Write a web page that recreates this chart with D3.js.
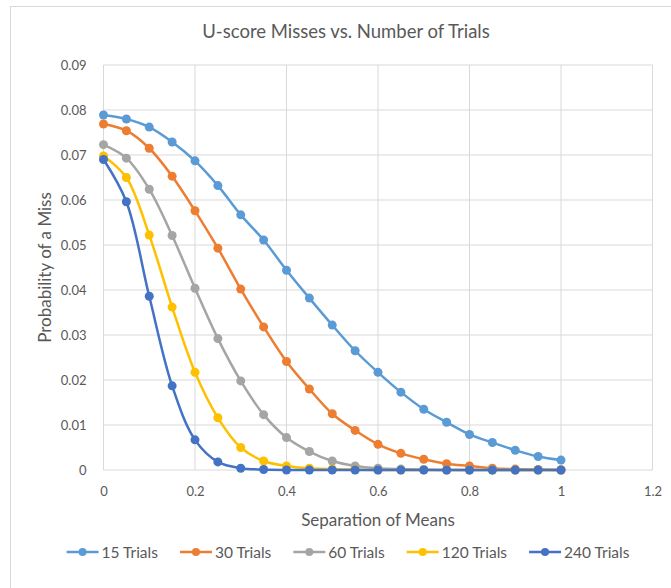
<!DOCTYPE html>
<html>
<head>
<meta charset="utf-8">
<script src="https://cdn.jsdelivr.net/npm/d3@7"></script>
<style>
  body { margin: 0; background: #fff; }
  text { font-family: Lato, "Open Sans", sans-serif; fill: #595959; }
</style>
</head>
<body>
<div id="chart"></div>
<script>
// ---- data ----
var separation = [0, 0.05, 0.1, 0.15, 0.2, 0.25, 0.3, 0.35, 0.4, 0.45, 0.5,
                  0.55, 0.6, 0.65, 0.7, 0.75, 0.8, 0.85, 0.9, 0.95, 1.0];
var series_names = ['15 Trials', '30 Trials', '60 Trials', '120 Trials', '240 Trials'];
var trials15 = [0.0789, 0.0780, 0.0762, 0.0729, 0.0687, 0.0632, 0.0567, 0.0511, 0.0444, 0.0382, 0.0322,
                0.0265, 0.0217, 0.0173, 0.0135, 0.0106, 0.0079, 0.0061, 0.0044, 0.0030, 0.0022];
var trials30 = [0.0769, 0.0754, 0.0715, 0.0653, 0.0576, 0.0493, 0.0402, 0.0318, 0.0241, 0.0180, 0.0125,
                0.0088, 0.0057, 0.0037, 0.0024, 0.0014, 0.0009, 0.0004, 0.0002, 0.0001, 0.0000];
var trials60 = [0.0723, 0.0693, 0.0624, 0.0521, 0.0404, 0.0292, 0.0198, 0.0123, 0.0072, 0.0041, 0.0020,
                0.0009, 0.0004, 0.0002, 0.0001, 0, 0, 0, 0, 0, 0];
var trials120 = [0.0698, 0.0650, 0.0522, 0.0362, 0.0217, 0.0116, 0.0050, 0.0020, 0.0009, 0.0004, 0.0002,
                 0.0001, 0, 0, 0, 0, 0, 0, 0, 0, 0];
var trials240 = [0.0690, 0.0596, 0.0386, 0.0187, 0.0067, 0.0018, 0.0004, 0.0001, 0, 0, 0,
                 0, 0, 0, 0, 0, 0, 0, 0, 0, 0];
var x_ticks = [0, 0.2, 0.4, 0.6, 0.8, 1, 1.2];
var y_ticks = [0, 0.01, 0.02, 0.03, 0.04, 0.05, 0.06, 0.07, 0.08, 0.09];

var all_values = [trials15, trials30, trials60, trials120, trials240];
var colors = ['#5B9BD5', '#ED7D31', '#A5A5A5', '#FFC000', '#4472C4'];

// ---- layout ----
const width = 671, height = 588;
const plot = {left: 103.5, right: 652.5, top: 65, bottom: 470};

var svg = d3.select('#chart').append('svg')
  .attr('width', width)
  .attr('height', height);

// outer chart border
svg.append('rect')
  .attr('x', 10.5).attr('y', 6.5)
  .attr('width', 700).attr('height', 620)
  .attr('fill', '#fff')
  .attr('stroke', '#D9D9D9');

var x = d3.scaleLinear().domain([0, 1.2]).range([plot.left, plot.right]);
var y = d3.scaleLinear().domain([0, 0.09]).range([plot.bottom, plot.top]);

// gridlines
svg.append('g').selectAll('line').data(y_ticks).join('line')
  .attr('x1', plot.left).attr('x2', plot.right)
  .attr('y1', d => y(d)).attr('y2', d => y(d))
  .attr('stroke', '#D9D9D9').attr('stroke-width', 1);
svg.append('g').selectAll('line').data(x_ticks).join('line')
  .attr('x1', d => x(d)).attr('x2', d => x(d))
  .attr('y1', plot.top).attr('y2', plot.bottom)
  .attr('stroke', '#D9D9D9').attr('stroke-width', 1);

// axes (labels only, Excel style)
var y_axis = svg.append('g')
  .attr('transform', `translate(${plot.left - 14},0)`)
  .call(d3.axisLeft(y).tickValues(y_ticks).tickSize(0).tickFormat(d => d === 0 ? '0' : d3.format('.2f')(d)));
var x_axis = svg.append('g')
  .attr('transform', `translate(0,${plot.bottom + 14})`)
  .call(d3.axisBottom(x).tickValues(x_ticks).tickSize(0).tickFormat(d => d === 0 || d === 1 ? String(d) : d3.format('.1f')(d)));
[x_axis, y_axis].forEach(function(a){
  a.select('.domain').remove();
  a.selectAll('text').attr('font-size', 13).attr('font-family', 'Lato, sans-serif').attr('fill', '#595959');
});

// series lines + markers
var line = d3.line()
  .x((d, i) => x(separation[i]))
  .y(d => y(d))
  .curve(d3.curveCatmullRom.alpha(0.5));

all_values.forEach(function(vals, k){
  var g = svg.append('g').attr('class', 'series');
  g.append('path')
    .attr('d', line(vals))
    .attr('fill', 'none')
    .attr('stroke', colors[k])
    .attr('stroke-width', 2.5)
    .attr('stroke-linejoin', 'round');
  g.selectAll('circle').data(vals).join('circle')
    .attr('cx', (d, i) => x(separation[i]))
    .attr('cy', d => y(d))
    .attr('r', 4.5)
    .attr('fill', colors[k]);
});

// titles
svg.append('text')
  .attr('x', 346).attr('y', 38)
  .attr('text-anchor', 'middle')
  .attr('font-size', 18.5)
  .text('U-score Misses vs. Number of Trials');

svg.append('text')
  .attr('x', (plot.left + plot.right) / 2).attr('y', 526)
  .attr('text-anchor', 'middle')
  .attr('font-size', 17)
  .text('Separation of Means');

svg.append('text')
  .attr('transform', `translate(51,${(plot.top + plot.bottom) / 2}) rotate(-90)`)
  .attr('text-anchor', 'middle')
  .attr('font-size', 17)
  .text('Probability of a Miss');

// legend
var legend = svg.append('g').attr('transform', 'translate(0,552)');
var items = legend.selectAll('g').data(series_names).join('g');
items.append('line')
  .attr('x1', 0).attr('x2', 32).attr('y1', 0).attr('y2', 0)
  .attr('stroke', (d, i) => colors[i]).attr('stroke-width', 2.5);
items.append('circle')
  .attr('cx', 16).attr('cy', 0).attr('r', 4)
  .attr('fill', (d, i) => colors[i]);
items.append('text')
  .attr('x', 35).attr('y', 5.5)
  .attr('font-size', 15.5)
  .text(d => d);
var widths = [];
items.each(function(){ widths.push(35 + d3.select(this).select('text').node().getComputedTextLength()); });
const gap = 22;
var total = d3.sum(widths) + gap * (widths.length - 1);
var acc = 348 - total / 2;
items.attr('transform', function(d, i){ var t = `translate(${acc},0)`; acc += widths[i] + gap; return t; });
</script>
</body>
</html>
